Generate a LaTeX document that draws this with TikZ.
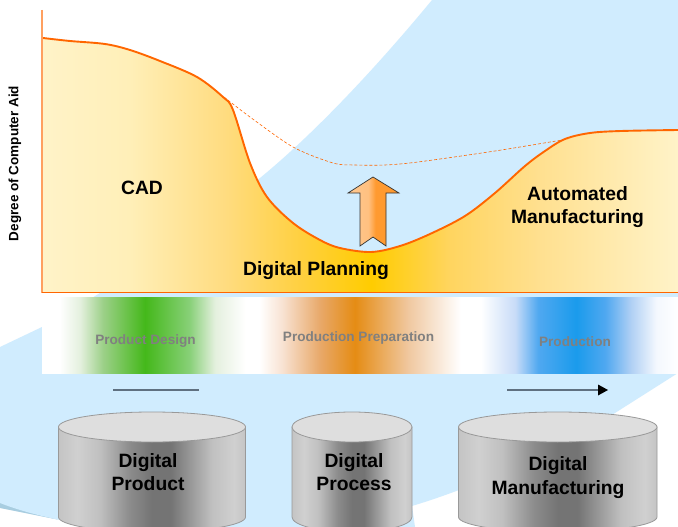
\documentclass[tikz,border=0pt]{standalone}
\usepackage{fontspec}
\setmainfont{Liberation Sans}
\definecolor{areaa}{HTML}{FFF3C8}\definecolor{areab}{HTML}{FFEFB8}\definecolor{areac}{HTML}{FFDC80}
\definecolor{aread}{HTML}{FFD040}\definecolor{areae}{HTML}{FFCC00}\definecolor{areaf}{HTML}{FFD560}
\definecolor{areag}{HTML}{FFE090}
\definecolor{gla}{HTML}{E4F0DE}\definecolor{glb}{HTML}{9CD088}\definecolor{gmid}{HTML}{44B81A}\definecolor{glc}{HTML}{88D078}
\definecolor{ola}{HTML}{F8E2D2}\definecolor{olb}{HTML}{E8A868}\definecolor{omid}{HTML}{E58C14}\definecolor{olc}{HTML}{F0C8A0}
\definecolor{bla}{HTML}{C8DCF8}\definecolor{blb}{HTML}{50A8F0}\definecolor{bmid}{HTML}{1A9BEC}\definecolor{blc}{HTML}{B0D0F4}\definecolor{bld}{HTML}{F4F8FE}
\definecolor{cya}{HTML}{C4C4C4}\definecolor{cyb}{HTML}{D0D0D0}\definecolor{cyc}{HTML}{C0C0C0}\definecolor{cyd}{HTML}{8C8C8C}\definecolor{cye}{HTML}{747474}
\definecolor{arra}{HTML}{FFC890}\definecolor{arrb}{HTML}{FFC080}\definecolor{arrc}{HTML}{FF9A30}
\definecolor{skyblue}{HTML}{D0ECFE}\definecolor{skyshade}{HTML}{A8CDE0}
\definecolor{curve}{HTML}{FF6600}\definecolor{axisline}{HTML}{FFA060}\definecolor{graytext}{HTML}{808080}
\definecolor{linegray}{HTML}{5F7080}\definecolor{cyledge}{HTML}{999999}\definecolor{cyltop}{HTML}{DEDEDE}
\pgfdeclarehorizontalshading{areashade}{100bp}{
 color(0bp)=(areaa); color(25bp)=(areaa); color(31.9bp)=(areab); color(39.4bp)=(areac);
 color(45.3bp)=(aread); color(50.9bp)=(areae); color(57.1bp)=(areaf); color(64.2bp)=(areag);
 color(75bp)=(areaa); color(100bp)=(areaa)}
\pgfdeclarehorizontalshading{bandshade}{100bp}{
 color(0bp)=(white); color(25bp)=(white); color(26.4bp)=(white); color(28bp)=(gla); color(29.8bp)=(glb);
 color(33.1bp)=(gmid); color(36.6bp)=(glc); color(38.6bp)=(gla); color(41bp)=(white); color(42.1bp)=(white);
 color(43.9bp)=(ola); color(46.9bp)=(olb); color(49.6bp)=(omid); color(53.8bp)=(olc); color(57.9bp)=(white);
 color(59.5bp)=(white); color(62.2bp)=(bla); color(64bp)=(blb); color(67bp)=(bmid); color(69.3bp)=(blb);
 color(71.3bp)=(blc); color(73.3bp)=(bld); color(75bp)=(white); color(100bp)=(white)}
\pgfdeclarehorizontalshading{cylshade}{100bp}{
 color(0bp)=(cya); color(25bp)=(cya); color(30bp)=(cyb); color(36bp)=(cyc); color(44bp)=(cyd);
 color(50bp)=(cye); color(55bp)=(cye); color(66bp)=(cyc); color(72bp)=(cyb); color(75bp)=(cya); color(100bp)=(cya)}
\pgfdeclarehorizontalshading{arrowshade}{100bp}{
 color(0bp)=(arra); color(25bp)=(arra); color(45bp)=(arrb); color(52bp)=(arrc); color(75bp)=(arrc); color(100bp)=(arrc)}
\tikzset{
 x=1pt,y=-1pt,
 curveline/.style={draw=curve,line width=1.9pt,line join=round},
 dashline/.style={draw=curve,line width=.6pt,dash pattern=on 3pt off 2pt},
 bigtext/.style={font=\bfseries\fontsize{19.3}{23}\selectfont,align=center,text=black,inner sep=0},
 bandtext/.style={font=\bfseries\fontsize{13.6}{15}\selectfont,text=graytext,inner sep=0},
 cyltext/.style={font=\bfseries\fontsize{19.3}{23}\selectfont,align=center,text=black,inner sep=0},
 leadline/.style={draw=linegray,line width=1.4pt},
}
\newcommand{\cylinder}[2]{% x0, x1
 \pgfmathsetmacro{\cx}{(#1+#2)/2}\pgfmathsetmacro{\rx}{(#2-#1)/2}
 \path[shading=cylshade,draw=cyledge,line width=.8pt]
   (#1,427) -- (#1,517) arc[start angle=180,end angle=360,x radius=\rx pt,y radius=15pt] -- (#2,427) -- cycle;
 \path[fill=cyltop,draw=cyledge,line width=.8pt] (\cx,427) ellipse[x radius=\rx pt,y radius=15pt];
}
\begin{document}
\begin{tikzpicture}
\useasboundingbox (0,0) rectangle (678,527);
\clip (0,0) rectangle (678,527);
\fill[white] (0,0) rectangle (678,527);
% background swoosh
\fill[skyshade] (0,500) .. controls (25,511) and (40,515) .. (60,520) -- (0,508) -- cycle;
\fill[skyblue] (432,0) .. controls (370,75) and (310,137) .. (260,178)
  .. controls (195,232) and (110,290) .. (42,327) -- (0,347) -- (0,503)
  .. controls (25,513) and (60,521) .. (100,527) -- (415,527) -- (412,506)
  .. controls (475,487) and (555,452) .. (615,413) -- (678,373) -- (678,0) -- cycle;
% area under curve
\path[shading=areashade] (42,292) -- (43,38) --
  plot[smooth,tension=.55] coordinates {(43,38) (70,41) (105,44) (130,50) (160,61) (197,77) (223,97) (233,110) (250,163) (267,197) (293,223) (320,240) (340,248) (371,252) (400,246) (430,234) (465,216) (495,193) (525,166) (545,151) (565,139) (590,133) (621,131) (678,130)}
  -- (678,292) -- cycle;
\draw[curveline] plot[smooth,tension=.55] coordinates {(43,38) (70,41) (105,44) (130,50) (160,61) (197,77) (223,97) (233,110) (250,163) (267,197) (293,223) (320,240) (340,248) (371,252) (400,246) (430,234) (465,216) (495,193) (525,166) (545,151) (565,139) (590,133) (621,131) (678,130)};
\draw[dashline] plot[smooth,tension=.5] coordinates {(224,97) (250,117) (293,147) (333,163) (355,165) (385,165) (418,162) (495,151) (568,139)};
% axes
\draw[axisline,line width=1.2pt] (42,10) -- (42,292.5);
\draw[curve,line width=.8pt] (42,292.5) -- (678,292.5);
% up arrow
\path[shading=arrowshade,draw=black!80,line width=.7pt,line join=miter]
  (373,177) -- (399,193) -- (386,193) -- (386,246) -- (373,237) -- (360,246) -- (360,193) -- (348,193) -- cycle;
% band
\path[shading=bandshade] (42,297) rectangle (678,373);
\node[bandtext] (design) at (145.5,341.5) {Product Design};
\node[bandtext] (prep) at (358.5,337.5) {Production Preparation};
\node[bandtext] (prod) at (575,341.5) {Production};
% labels
\node[bigtext] (cad) at (142,188) {CAD};
\node[bigtext] (plan) at (316,271) {Digital Planning};
\node[bigtext] (auto) at (577.5,207) {Automated\\Manufacturing};
\node[font=\bfseries\fontsize{13.5}{14}\selectfont,rotate=90,inner sep=0] (yaxis) at (15,163.5) {Degree of Computer Aid};
% lead arrows
\coordinate (la) at (113,390); \coordinate (lb) at (199,390);
\coordinate (ra) at (507,390); \coordinate (rb) at (598,390); \coordinate (rc) at (608,390);
\draw[leadline] (la) -- (lb);
\draw[leadline] (ra) -- (rb);
\fill[black] (rc) -- (598,384.5) -- (598,395.5) -- cycle;
% cylinders
\cylinder{58.5}{245.5}
\cylinder{292}{412}
\cylinder{458.5}{657}
\node[cyltext] (dp) at (148,472.5) {Digital\\Product};
\node[cyltext] (dpr) at (354,472.5) {Digital\\Process};
\node[cyltext,font=\bfseries\fontsize{19.3}{24.5}\selectfont] (dm) at (558,477.5) {Digital\\Manufacturing};
\end{tikzpicture}
\end{document}
